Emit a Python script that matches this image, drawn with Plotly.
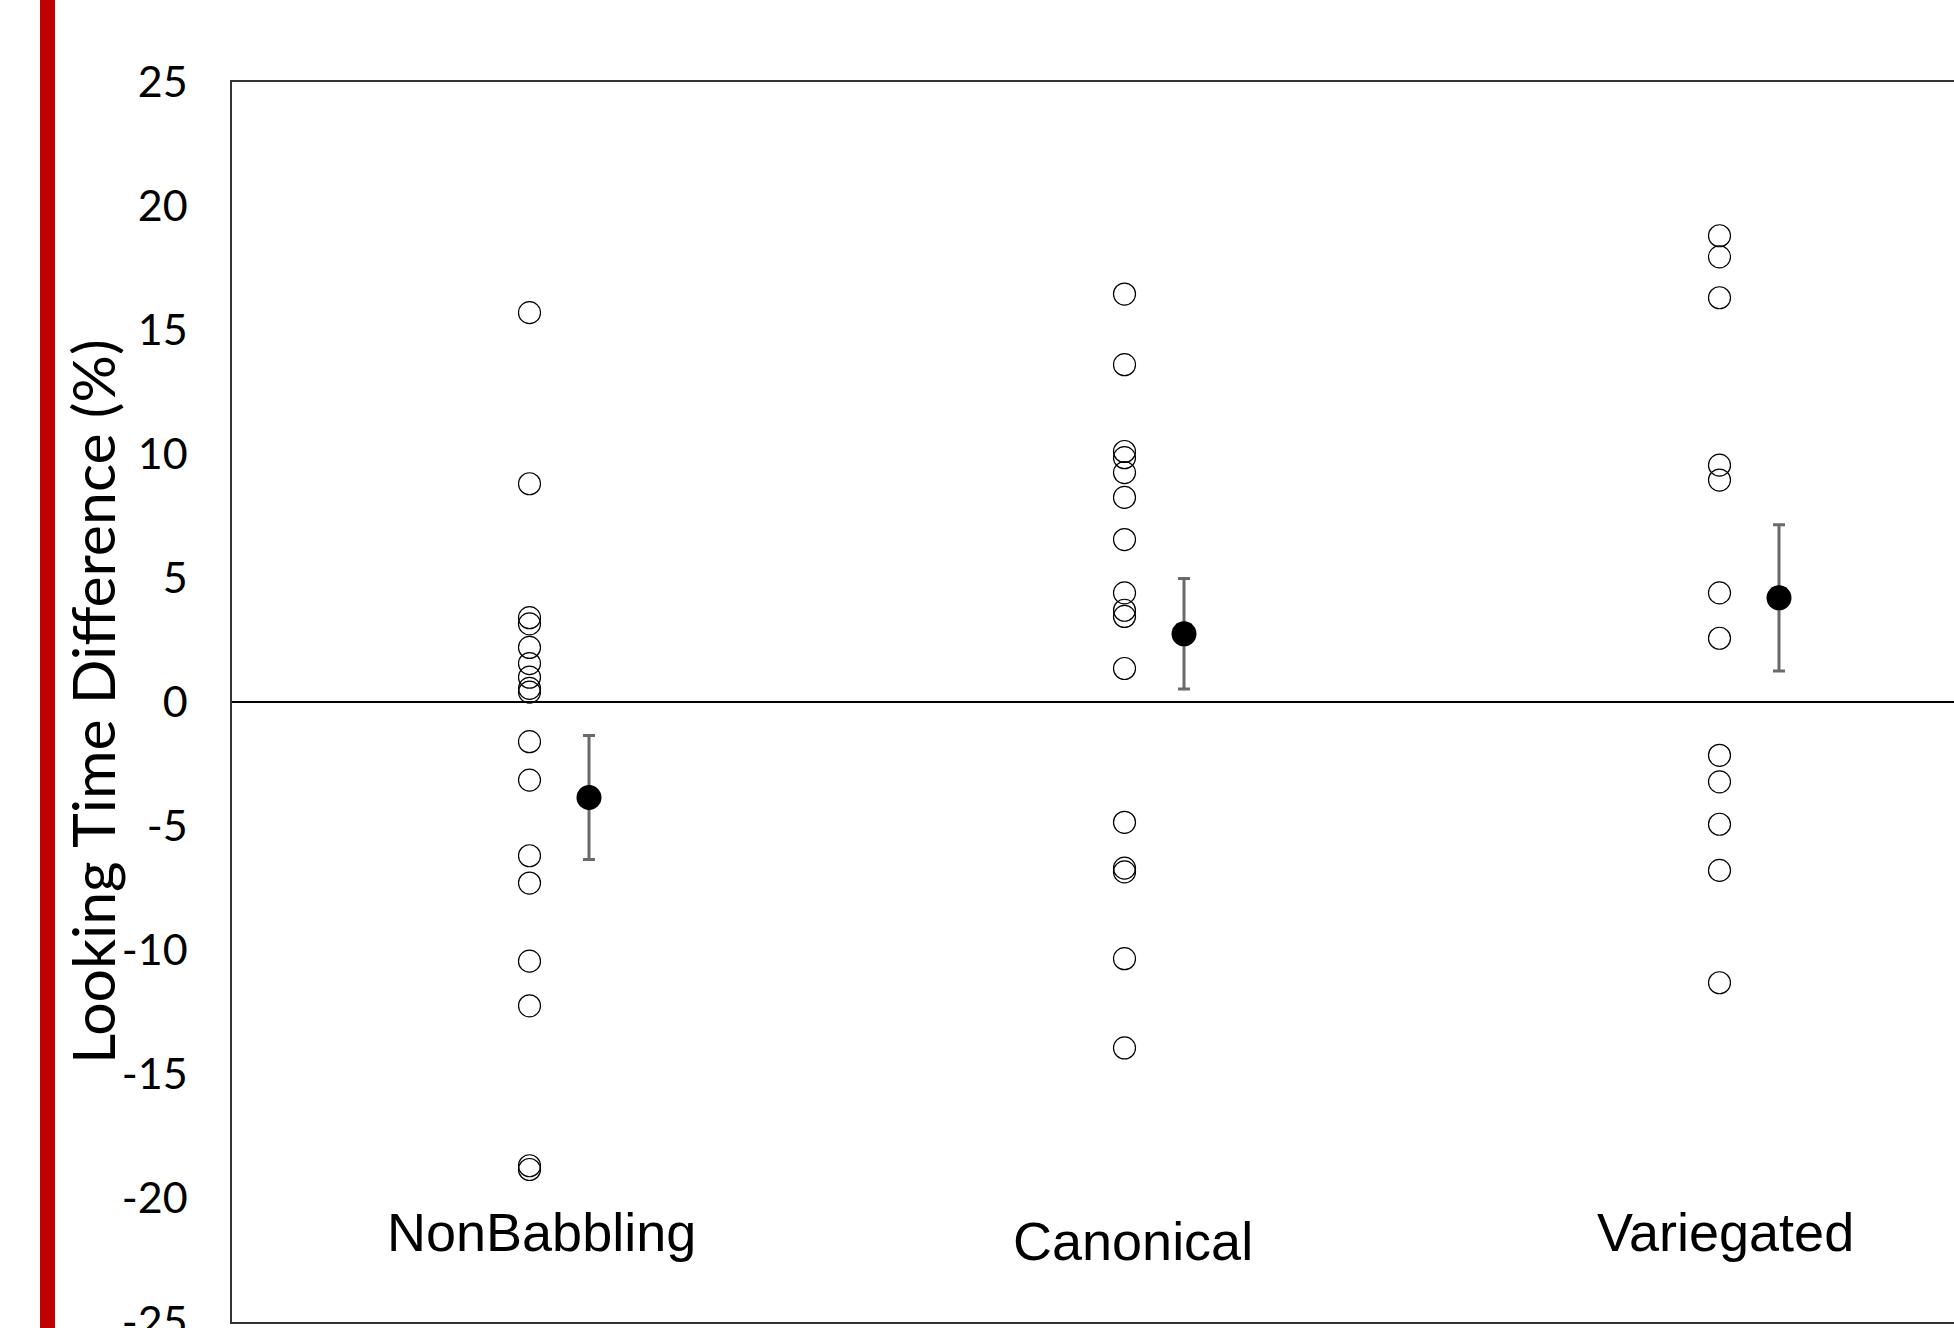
import plotly.graph_objects as go

# ---- data ----
categories = ["NonBabbling", "Canonical", "Variegated"]
cat_pos = [1, 2, 3]
nonbabbling = [15.7, 8.8, 3.4, 3.15, 2.2, 1.55, 1.0, 0.55, 0.4, -1.6, -3.15, -6.2, -7.3,
               -10.45, -12.25, -18.7, -18.85]
canonical = [16.45, 13.6, 10.1, 9.85, 9.25, 8.25, 6.55, 4.4, 3.7, 3.45, 1.35, -4.85,
             -6.7, -6.85, -10.35, -13.95]
variegated = [18.8, 17.95, 16.3, 9.55, 8.95, 4.4, 2.57, -2.15, -3.22, -4.93, -6.79, -11.32]
means = [-3.85, 2.75, 4.2]
errors = [2.5, 2.23, 2.95]
ytick_vals = [25, 20, 15, 10, 5, 0, -5, -10, -15, -20, -25]
ytick_text = ["25", "20", "15", "10", "5", "0", "-5", "-10", "-15", "-20", "-25"]
label_y = [-21.36, -21.72, -21.36]
label_dx = [0.02, 0.015, 0.01]
mean_offset = 0.1

W, H = 1954, 1328
ML, MR, MT, MB = 232, 0, 82, 6
plot_w = W - ML - MR
px_per_unit = 595.0
x_min = 0.5
x_max = x_min + plot_w / px_per_unit

fig = go.Figure()

groups = [nonbabbling, canonical, variegated]
for pos, vals in zip(cat_pos, groups):
    fig.add_trace(go.Scatter(
        x=[pos] * len(vals), y=vals, mode="markers",
        marker=dict(symbol="circle-open", size=22, color="black",
                    line=dict(color="black", width=1.2)),
        showlegend=False, hoverinfo="y"))

fig.add_trace(go.Scatter(
    x=[p + mean_offset for p in cat_pos], y=means, mode="markers",
    marker=dict(symbol="circle", size=25, color="black"),
    error_y=dict(type="data", array=errors, visible=True, color="#6a6a6a",
                 thickness=3, width=6),
    showlegend=False, hoverinfo="y"))

# category labels inside plot
for pos, name, ly, dx in zip(cat_pos, categories, label_y, label_dx):
    fig.add_annotation(x=pos + dx, y=ly, xref="x", yref="y", text=name,
                       showarrow=False, xanchor="center", yanchor="middle",
                       font=dict(family="Liberation Sans, Arial", size=54, color="black"))

# y axis title
fig.add_annotation(x=(92 - ML) / plot_w, y=0.5, xref="paper", yref="paper",
                   text="Looking Time Difference (%)", textangle=-90,
                   showarrow=False, xanchor="center", yanchor="middle",
                   font=dict(family="Lato, Open Sans", size=59, color="black"))

# red vertical bar at left
fig.add_shape(type="rect", xref="paper", yref="paper",
              x0=(40 - ML) / plot_w, x1=(55 - ML) / plot_w, y0=-0.1, y1=1.1,
              fillcolor="#C00000", line=dict(width=0), layer="above")

fig.update_layout(
    width=W, height=H,
    margin=dict(l=ML, r=MR, t=MT, b=MB, autoexpand=False),
    paper_bgcolor="white", plot_bgcolor="white",
    xaxis=dict(range=[x_min, x_max], showgrid=False, zeroline=False,
               showticklabels=False, ticks="", showline=True, mirror=True,
               linecolor="#333333", linewidth=1.5, automargin=False),
    yaxis=dict(range=[-25, 25], tickvals=ytick_vals, ticktext=ytick_text,
               showgrid=False, zeroline=True, zerolinecolor="black", zerolinewidth=2.2,
               showline=True, mirror=False, linecolor="#333333", linewidth=1.5,
               ticks="", ticklabelstandoff=34, ticklabeloverflow="allow",
               automargin=False,
               tickfont=dict(family="Lato, Open Sans", size=43, color="black")),
)

fig.write_html(
    "out.html",
    config={"displayModeBar": False},
    post_script="document.body.style.margin='0px';"
                "document.body.style.overflow='hidden';"
                "document.documentElement.style.overflow='hidden';",
)
